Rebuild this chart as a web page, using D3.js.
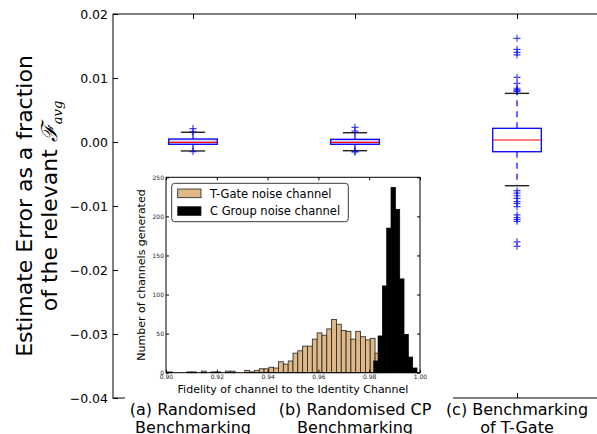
<!DOCTYPE html>
<html>
<head>
<meta charset="utf-8">
<script src="https://cdn.jsdelivr.net/npm/d3@7"></script>
<style>
  body { margin: 0; background: #fff; }
  svg { display: block; font-family: "DejaVu Sans", sans-serif; }
</style>
</head>
<body>
<svg id="chart" width="597" height="434"></svg>
<script>
// main box plot data (fraction of F_avg)
const categories = [["(a) Randomised", "Benchmarking"], ["(b) Randomised CP", "Benchmarking"], ["(c) Benchmarking", "of T-Gate"]]
const q1s = [-0.00036, -0.00036, -0.00152]
const medians = [-0.00005, -0.00005, 0.00031]
const q3s = [0.00047, 0.00042, 0.00214]
const whiskLo = [-0.0014, -0.00136, -0.00683]
const whiskHi = [0.00152, 0.00145, 0.0076]
const outliers = [
  [0.0021, 0.0016, -0.0015],
  [0.0023, 0.0017, -0.0015, -0.00156],
  [0.0162, 0.01448, 0.0140, 0.0136, 0.0101, 0.00917, 0.0084, 0.0082, 0.0080, 0.0079,
   -0.0076, -0.0080, -0.0084, -0.0088, -0.0093, -0.0096, -0.0101, -0.0114, -0.0118,
   -0.0121, -0.0124, -0.0156, -0.0163]
]
const yTicks = [0.02, 0.01, 0.00, -0.01, -0.02, -0.03, -0.04]

// inset histogram data
const tGateStart = 0.9006, tGateWidth = 0.0019
const tGateCounts = [1, 0, 0, 0, 1, 1, 0, 2, 0, 1, 1, 0, 2, 2, 0, 0, 3, 1, 3, 5,
  5, 7, 6, 14, 11, 15, 25, 28, 34, 34, 43, 51, 48, 56, 68, 62, 54, 53, 43, 53,
  46, 42, 44, 25]
const cGroupStart = 0.9818, cGroupWidth = 0.0017
const cGroupCounts = [15, 47, 111, 185, 237, 209, 120, 49, 20, 6]
const insetXTicks = [0.90, 0.92, 0.94, 0.96, 0.98, 1.00]
const insetYTicks = [0, 50, 100, 150, 200, 250]
const legendLabels = ["T-Gate noise channel", "C Group noise channel"]
const legendColors = ["#deb887", "#000000"]

const svg = d3.select("#chart")

// ---- main axes ----
const m = {left: 113, right: 598, top: 14, bottom: 398}
const x = d3.scaleLinear().domain([0.5, 3.5]).range([m.left - 1, m.right])
const y = d3.scaleLinear().domain([-0.04, 0.02]).range([m.bottom, m.top])

const main = svg.append("g")

main.append("g")
  .attr("transform", "translate(" + m.left + ",0)")
  .call(d3.axisLeft(y).tickValues(yTicks).tickFormat(d3.format(".2f")).tickSize(-5).tickPadding(5))
  .call(g => g.select(".domain").remove())
  .call(g => g.selectAll("text").style("font-size", "12.5px").attr("fill", "#000").style("font-family", "DejaVu Sans"))

main.append("g")
  .attr("transform", "translate(0," + m.bottom + ")")
  .call(d3.axisBottom(x).tickValues([1, 2, 3]).tickFormat("").tickSize(-5))
  .call(g => g.select(".domain").remove())

main.append("g")
  .attr("transform", "translate(0," + m.top + ")")
  .call(d3.axisTop(x).tickValues([1, 2, 3]).tickFormat("").tickSize(-5))
  .call(g => g.select(".domain").remove())

main.append("rect")
  .attr("x", m.left).attr("y", m.top)
  .attr("width", m.right - m.left).attr("height", m.bottom - m.top)
  .attr("fill", "none").attr("stroke", "#000").attr("stroke-width", 1)

// y label (two lines)
const ylab = main.append("text")
  .attr("transform", "translate(0,206) rotate(-90)")
  .attr("text-anchor", "middle")
  .style("font-size", "22px")
ylab.append("tspan").attr("x", 0).attr("y", 32).text("Estimate Error as a fraction")
const l2 = ylab.append("tspan").attr("x", 0).attr("y", 57)
l2.append("tspan").text("of the relevant ")
l2.append("tspan").style("font-family", "DejaVu Serif").style("font-style", "italic").text("ℱ")
l2.append("tspan").attr("dy", 5).style("font-size", "13px")
  .style("font-family", "DejaVu Serif").style("font-style", "italic").text("avg")

// boxes
const boxW = x(1.15) - x(0.85)
const capW = boxW / 2
const box = main.selectAll(".box")
  .data(categories.map((c, i) => i))
  .enter().append("g").attr("class", "box")

box.append("line")
  .attr("x1", i => x(i + 1)).attr("x2", i => x(i + 1))
  .attr("y1", i => y(q3s[i])).attr("y2", i => y(whiskHi[i]))
  .attr("stroke", "#0000ff").attr("stroke-width", 1.2).attr("stroke-dasharray", "6,5")
box.append("line")
  .attr("x1", i => x(i + 1)).attr("x2", i => x(i + 1))
  .attr("y1", i => y(q1s[i])).attr("y2", i => y(whiskLo[i]))
  .attr("stroke", "#0000ff").attr("stroke-width", 1.2).attr("stroke-dasharray", "6,5")

box.selectAll(".cap")
  .data(i => [[i, whiskHi[i]], [i, whiskLo[i]]])
  .enter().append("line")
  .attr("x1", d => x(d[0] + 1) - capW / 2).attr("x2", d => x(d[0] + 1) + capW / 2)
  .attr("y1", d => y(d[1])).attr("y2", d => y(d[1]))
  .attr("stroke", "#222").attr("stroke-width", 1.4)

box.append("rect")
  .attr("x", i => x(i + 1) - boxW / 2).attr("width", boxW)
  .attr("y", i => y(q3s[i])).attr("height", i => y(q1s[i]) - y(q3s[i]))
  .attr("fill", "#d8d8ff").attr("fill-opacity", i => i < 2 ? 1 : 0)
  .attr("stroke", "#0000ff").attr("stroke-width", 1.3)

box.append("line")
  .attr("x1", i => x(i + 1) - boxW / 2).attr("x2", i => x(i + 1) + boxW / 2)
  .attr("y1", i => y(medians[i])).attr("y2", i => y(medians[i]))
  .attr("stroke", "#ff0000").attr("stroke-width", 1.2)

box.selectAll(".flier")
  .data(i => outliers[i].map(v => [i, v]))
  .enter().append("path")
  .attr("d", d => {
    const cx = x(d[0] + 1), cy = y(d[1])
    return "M" + (cx - 3.5) + "," + cy + "H" + (cx + 3.5) + "M" + cx + "," + (cy - 3.5) + "V" + (cy + 3.5)
  })
  .attr("stroke", "#0000ff").attr("stroke-width", 1.2).attr("stroke-opacity", 0.75)

// category labels
categories.forEach((c, i) => {
  const t = main.append("text")
    .attr("text-anchor", "middle")
    .style("font-size", "16px")
  c.forEach((line, j) => {
    t.append("tspan").attr("x", x(i + 1)).attr("y", 415 + j * 18).text(line)
  })
})

// ---- inset histogram ----
main.append("rect")
  .attr("x", 125).attr("y", 160).attr("width", 328).attr("height", 241)
  .attr("fill", "#fff")

const ins = {left: 166, right: 420, top: 177.3, bottom: 372.7}
const xi = d3.scaleLinear().domain([0.90, 1.00]).range([ins.left, ins.right])
const yi = d3.scaleLinear().domain([0, 250]).range([ins.bottom, ins.top])
const inset = svg.append("g")

inset.selectAll(".tbar")
  .data(tGateCounts.map((c, k) => ({x0: tGateStart + k * tGateWidth, x1: tGateStart + (k + 1) * tGateWidth, n: c})))
  .enter().append("rect").attr("class", "tbar")
  .attr("x", d => xi(d.x0)).attr("width", d => xi(d.x1) - xi(d.x0))
  .attr("y", d => yi(d.n)).attr("height", d => yi(0) - yi(d.n))
  .attr("fill", legendColors[0]).attr("stroke", "#222").attr("stroke-width", 0.8)

inset.selectAll(".cbar")
  .data(cGroupCounts.map((c, k) => ({x0: cGroupStart + k * cGroupWidth, x1: cGroupStart + (k + 1) * cGroupWidth, n: c})))
  .enter().append("rect").attr("class", "cbar")
  .attr("x", d => xi(d.x0)).attr("width", d => xi(d.x1) - xi(d.x0))
  .attr("y", d => yi(d.n)).attr("height", d => yi(0) - yi(d.n))
  .attr("fill", legendColors[1]).attr("stroke", "#000").attr("stroke-width", 0.8)

const fmt2 = d3.format(".2f")
inset.append("g")
  .attr("transform", "translate(" + ins.left + ",0)")
  .call(d3.axisLeft(yi).tickValues(insetYTicks).tickSize(-3).tickPadding(2))
  .call(g => g.select(".domain").remove())
  .call(g => g.selectAll("text").style("font-size", "6px").attr("fill", "#222").style("font-family", "DejaVu Sans"))
inset.append("g")
  .attr("transform", "translate(" + ins.right + ",0)")
  .call(d3.axisRight(yi).tickValues(insetYTicks).tickFormat("").tickSize(-3))
  .call(g => g.select(".domain").remove())
inset.append("g")
  .attr("transform", "translate(0," + ins.bottom + ")")
  .call(d3.axisBottom(xi).tickValues(insetXTicks).tickFormat(fmt2).tickSize(-3).tickPadding(2))
  .call(g => g.select(".domain").remove())
  .call(g => g.selectAll("text").style("font-size", "6px").attr("fill", "#222").style("font-family", "DejaVu Sans"))
inset.append("g")
  .attr("transform", "translate(0," + ins.top + ")")
  .call(d3.axisTop(xi).tickValues(insetXTicks).tickFormat("").tickSize(-3))
  .call(g => g.select(".domain").remove())

inset.append("rect")
  .attr("x", ins.left).attr("y", ins.top)
  .attr("width", ins.right - ins.left).attr("height", ins.bottom - ins.top)
  .attr("fill", "none").attr("stroke", "#000").attr("stroke-width", 1)

inset.append("text")
  .attr("transform", "translate(145," + ((ins.top + ins.bottom) / 2) + ") rotate(-90)")
  .attr("text-anchor", "middle")
  .style("font-size", "11px")
  .text("Number of channels generated")

inset.append("text")
  .attr("x", (ins.left + ins.right) / 2).attr("y", 393)
  .attr("text-anchor", "middle")
  .style("font-size", "11px")
  .text("Fidelity of channel to the Identity Channel")

// legend
const leg = inset.append("g")
leg.append("rect")
  .attr("x", 171.7).attr("y", 183.3).attr("width", 176.6).attr("height", 38.4)
  .attr("rx", 3).attr("fill", "#fff").attr("stroke", "#222").attr("stroke-width", 0.9)
legendLabels.forEach((lab, i) => {
  leg.append("rect")
    .attr("x", 177.7).attr("y", 189 + i * 17.7).attr("width", 23.3).attr("height", 8.7)
    .attr("fill", legendColors[i]).attr("stroke", "#222").attr("stroke-width", 0.8)
  leg.append("text")
    .attr("x", 210).attr("y", 197.5 + i * 17.7)
    .style("font-size", "11.5px")
    .text(lab)
})
</script>
</body>
</html>
